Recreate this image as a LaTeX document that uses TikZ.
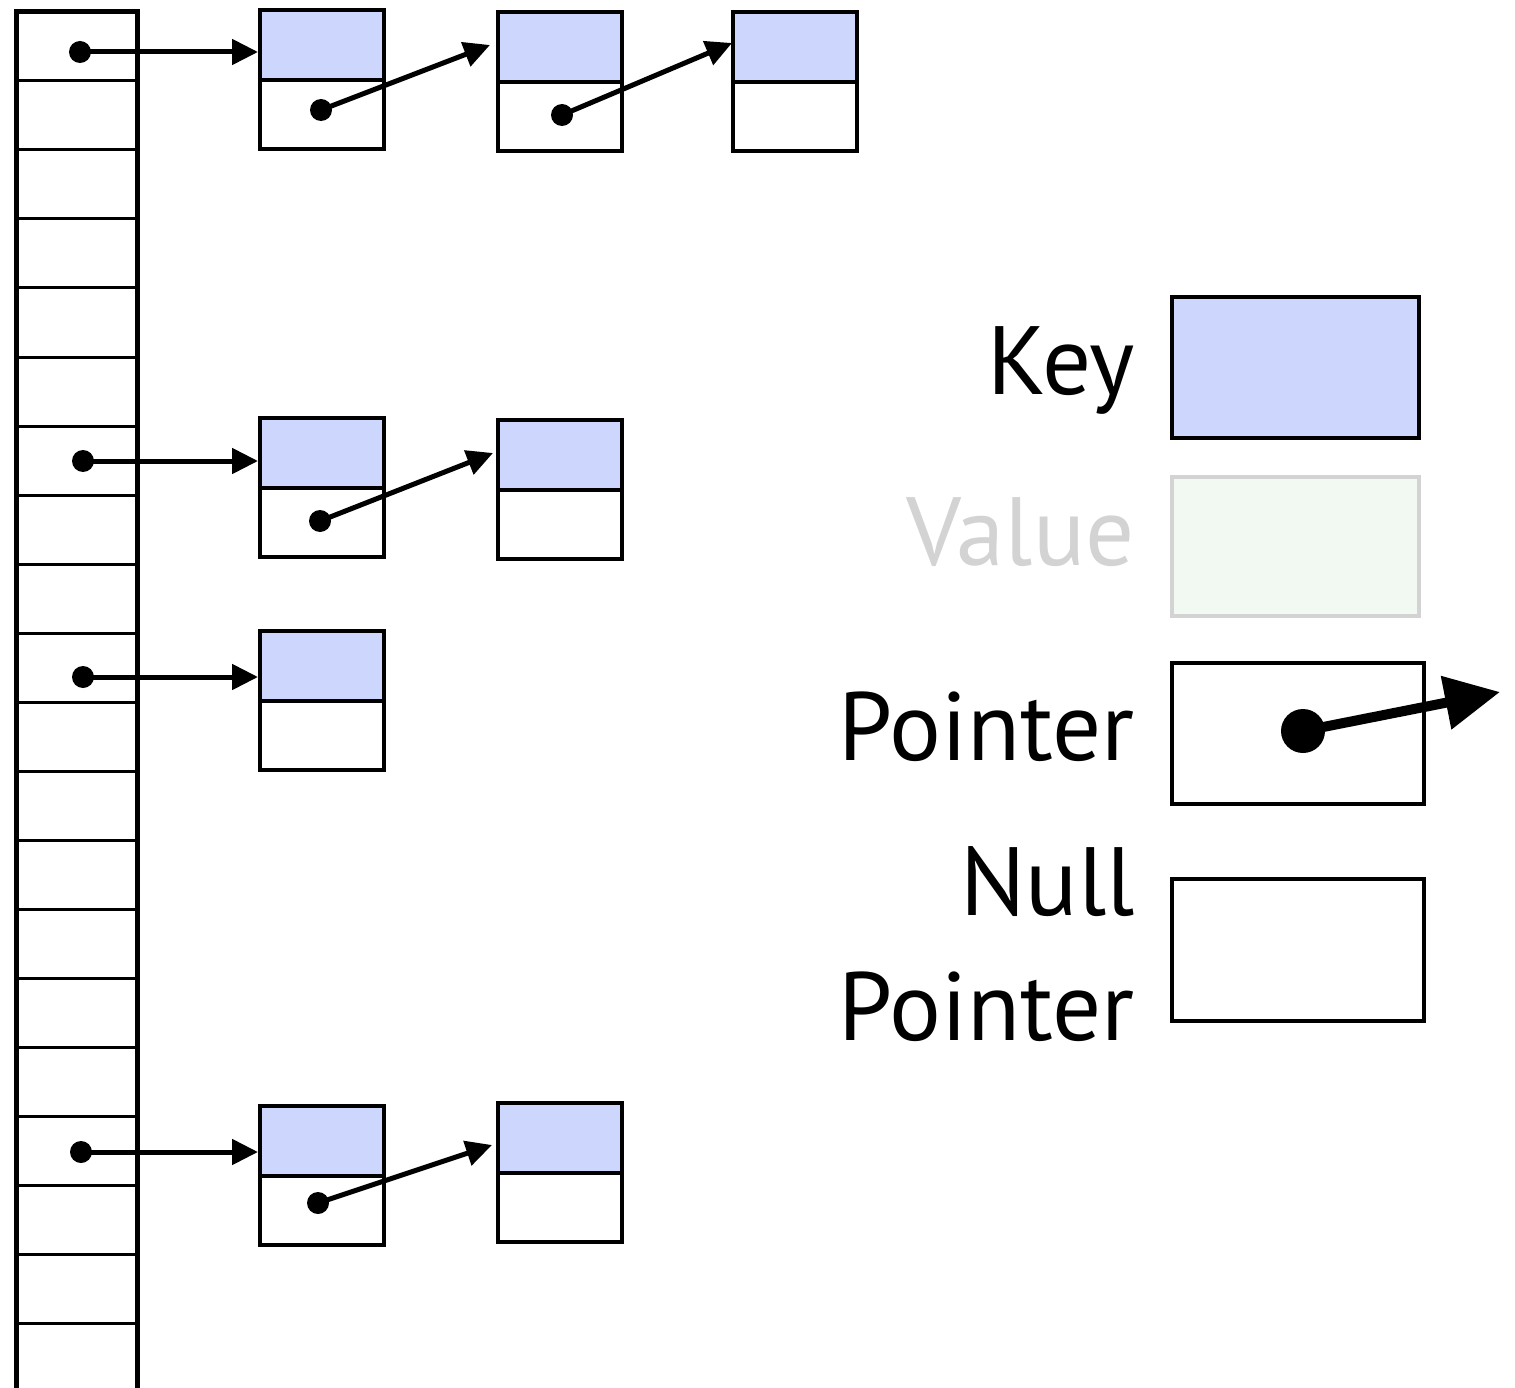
\documentclass[tikz,border=0pt]{standalone}
\usepackage{fontspec}
\setmainfont{PT Sans}
\usetikzlibrary{arrows.meta,calc}

\definecolor{keyblue}{RGB}{205,214,253}
\definecolor{valgreen}{RGB}{242,248,242}
\definecolor{valgray}{RGB}{211,211,211}

\tikzset{
  slot/.style={draw, line width=3pt, minimum width=121pt, minimum height=69pt,
               inner sep=0pt, outer sep=0pt},
  keycell/.style={draw, fill=keyblue, line width=4.5pt, minimum width=124pt,
                  minimum height=70pt, inner sep=0pt, outer sep=0pt},
  ptrcell/.style={draw, fill=white, line width=4.5pt, minimum width=124pt,
                  minimum height=69pt, inner sep=0pt, outer sep=0pt, anchor=north},
  link/.style={line width=5pt, -{Triangle[length=26pt,width=25pt]}},
  dotmark/.style={fill=black},
  legendtext/.style={font=\fontsize{97}{116}\selectfont, anchor=base east,
                     inner sep=0pt},
}

% one list element: key cell on top, pointer cell below
\newcommand{\listelem}[3]{%
  \node[keycell] (#1k) at (#2+62, #3+35) {};
  \node[ptrcell] (#1p) at (#1k.south) {};
}

\begin{document}
\begin{tikzpicture}[x=1pt, y=-1pt]
  \useasboundingbox (0,0) rectangle (1515,1388);
  \clip (0,0) rectangle (1515,1388);

  % bucket array
  \foreach \i in {0,...,19} {
    \node[slot] (t\i) at (76.5, 46.5+69*\i) {};
  }
  \draw[line width=5pt] (t19.south west) -- (t0.north west)
        -- (t0.north east) -- (t19.south east);

  % list elements
  \listelem{a1}{260}{10}
  \listelem{a2}{498}{12}
  \listelem{a3}{733}{12}
  \listelem{b1}{260}{418}
  \listelem{b2}{498}{420}
  \listelem{c1}{260}{631}
  \listelem{d1}{260}{1106}
  \listelem{d2}{498}{1103}

  % pointer origins
  \coordinate (s0) at (80,52);
  \coordinate (s6) at (83,461);
  \coordinate (s9) at (83,677);
  \coordinate (s16) at (81,1152);
  \coordinate (pa1) at (321,110);
  \coordinate (pa2) at (562,115);
  \coordinate (pb1) at (320,521);
  \coordinate (pd1) at (318,1203);

  % bucket pointers
  \foreach \s/\n in {s0/a1, s6/b1, s9/c1, s16/d1} {
    \draw[link] (\s) -- ($(\s -| \n k.west)+(-2,0)$);
    \fill[dotmark] (\s) circle (11pt);
  }

  % next pointers
  \draw[link] (pa1) -- ($(a2k.west)+(-8,-2)$);
  \fill[dotmark] (pa1) circle (11pt);
  \draw[link] (pa2) -- ($(a3k.west)+(-1,-4)$);
  \fill[dotmark] (pa2) circle (11pt);
  \draw[link] (pb1) -- ($(b2k.west)+(-5,-2)$);
  \fill[dotmark] (pb1) circle (11pt);
  \draw[link] (pd1) -- ($(d2k.west)+(-6,7)$);
  \fill[dotmark] (pd1) circle (11pt);

  % legend
  \node[draw, fill=keyblue, line width=4.5pt, minimum width=247pt, minimum height=141pt,
        inner sep=0pt] (lkey) at (1295.5, 367.5) {};
  \node[draw=valgray, fill=valgreen, line width=4pt, minimum width=247pt,
        minimum height=139pt, inner sep=0pt] (lval) at (1295.5, 546.5) {};
  \node[draw, line width=3.5pt, minimum width=252pt, minimum height=141pt,
        inner sep=0pt] (lptr) at (1298, 733.5) {};
  \node[draw, line width=3.5pt, minimum width=252pt, minimum height=142pt,
        inner sep=0pt] (lnull) at (1298, 950) {};

  \coordinate (lp) at (1303,731);
  \coordinate (lpend) at (1500,692);
  \draw[line width=10pt, -{Triangle[length=55pt,width=52pt]}] (lp) -- (lpend);
  \fill[dotmark] (lp) circle (22pt);

  \node[legendtext] (tkey) at (1135,394) {Key};
  \node[legendtext, text=valgray] (tval) at (1135,565) {Value};
  \node[legendtext] (tptr) at (1135,760) {Pointer};
  \node[legendtext] (tnull) at (1135,915) {Null};
  \node[legendtext] (tnull2) at (1135,1040) {Pointer};
\end{tikzpicture}
\end{document}
